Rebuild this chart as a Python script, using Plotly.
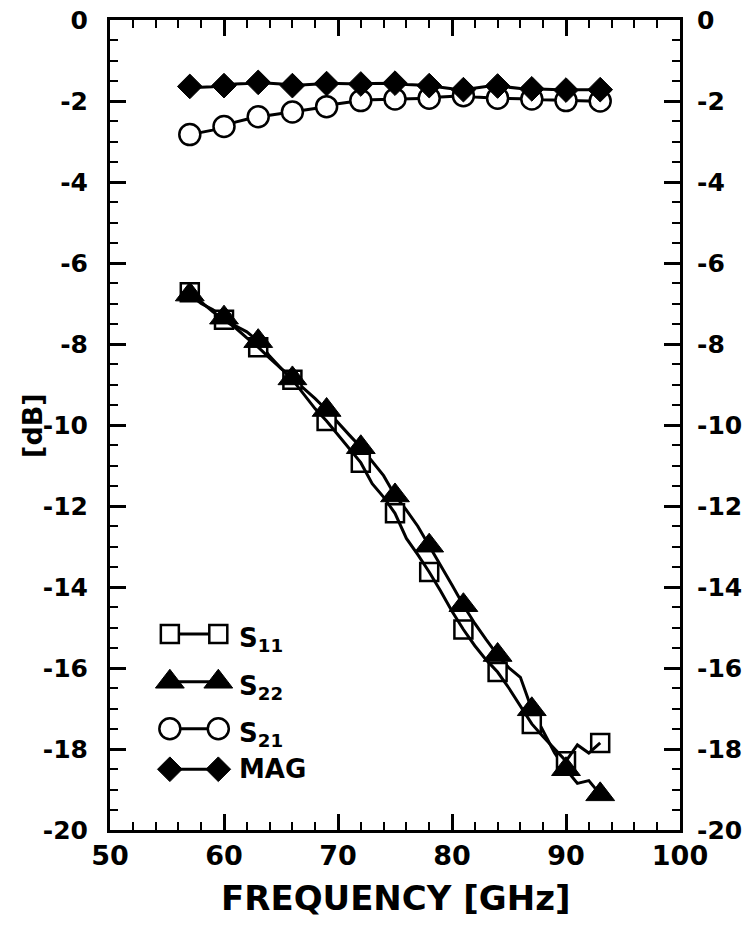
import plotly.graph_objects as go

# Sweep frequencies (GHz), 1 GHz steps; every third point carries a marker
freq = list(range(57, 94))

# Measured S-parameters and maximum available gain (dB)
s11 = [-6.72, -6.95, -7.20, -7.40, -7.60, -7.85, -8.08, -8.35, -8.60, -8.88,
       -9.25, -9.60, -9.90, -10.25, -10.60, -10.93, -11.45, -11.78, -12.18, -12.80,
       -13.20, -13.63, -14.10, -14.60, -15.05, -15.45, -15.80, -16.10, -16.50, -16.95,
       -17.38, -17.70, -18.00, -18.30, -17.90, -18.10, -17.85]
s22 = [-6.78, -7.00, -7.15, -7.35, -7.55, -7.70, -7.93, -8.30, -8.60, -8.85,
       -9.10, -9.35, -9.63, -9.95, -10.25, -10.55, -10.90, -11.25, -11.74, -12.10,
       -12.50, -12.98, -13.45, -13.95, -14.45, -14.90, -15.30, -15.68, -16.00, -16.23,
       -17.02, -17.55, -18.10, -18.50, -18.85, -18.78, -19.12]
s21 = [-2.83, -2.78, -2.72, -2.63, -2.52, -2.45, -2.39, -2.35, -2.31, -2.27,
       -2.22, -2.19, -2.14, -2.07, -2.03, -1.99, -1.97, -1.96, -1.95, -1.94,
       -1.94, -1.93, -1.90, -1.88, -1.87, -1.90, -1.92, -1.93, -1.94, -1.94,
       -1.95, -1.97, -1.98, -1.99, -1.99, -2.00, -2.00]
mag = [-1.64, -1.66, -1.65, -1.62, -1.58, -1.57, -1.54, -1.56, -1.58, -1.62,
       -1.60, -1.59, -1.57, -1.57, -1.58, -1.58, -1.57, -1.56, -1.56, -1.59,
       -1.61, -1.62, -1.66, -1.70, -1.72, -1.68, -1.64, -1.63, -1.66, -1.69,
       -1.70, -1.71, -1.73, -1.73, -1.72, -1.72, -1.72]

names = ["S<sub>11</sub>", "S<sub>22</sub>", "S<sub>21</sub>", "MAG"]
x_ticks = [50, 60, 70, 80, 90, 100]
x_tick_labels = ["50", "60", "70", "80", "90", "100"]
y_ticks = [0, -2, -4, -6, -8, -10, -12, -14, -16, -18, -20]
y_tick_labels = ["0", "-2", "-4", "-6", "-8", "-10", "-12", "-14", "-16", "-18", "-20"]

FONT = "DejaVu Sans"
BLACK = "black"
LW = 3
TEXT = dict(family=FONT, size=25, color=BLACK, weight="bold")
XTEXT = dict(family=FONT, size=27, color=BLACK, weight="bold")
TITLE = dict(family=FONT, size=34, color=BLACK, weight="bold")
YTITLE = dict(family=FONT, size=27, color=BLACK, weight="bold")
KEYTEXT = dict(family=FONT, size=26, color=BLACK, weight="bold")

styles = [
    dict(symbol="square", size=18, color="white", line=dict(color=BLACK, width=2.5)),
    dict(symbol="triangle-up", size=25, color=BLACK, line=dict(color=BLACK, width=1)),
    dict(symbol="circle", size=21, color="white", line=dict(color=BLACK, width=2.5)),
    dict(symbol="diamond", size=19, color=BLACK, line=dict(color=BLACK, width=1)),
]
series = [s11, s22, s21, mag]

fig = go.Figure()

# connecting lines through every sweep point (the first one is on the right-hand
# dB axis, which shares the left axis scale)
for i, ys in enumerate(series):
    fig.add_trace(go.Scatter(x=freq, y=ys, mode="lines",
                             line=dict(color=BLACK, width=LW), showlegend=False,
                             yaxis="y2" if i == 0 else "y", hoverinfo="skip"))
# markers on every third sweep point
for ys, st in zip(series, styles):
    fig.add_trace(go.Scatter(x=freq[::3], y=ys[::3], mode="markers",
                             marker=st, showlegend=False))

# key: two markers joined by a line, on a unit overlay axis
key_rows = [0.242, 0.183, 0.125, 0.075]
for yk, st, nm in zip(key_rows, styles, names):
    fig.add_trace(go.Scatter(x=[0.105, 0.19], y=[yk, yk], mode="lines+markers",
                             line=dict(color=BLACK, width=LW), marker=st,
                             xaxis="x3", yaxis="y3", showlegend=False, hoverinfo="skip"))
    fig.add_annotation(x=0.222, y=yk, xref="paper", yref="paper", text=nm,
                       showarrow=False, xanchor="left", yanchor="middle",
                       yshift=-6 if nm != "MAG" else 0, font=KEYTEXT)

axis_common = dict(showline=True, linewidth=LW, linecolor=BLACK, mirror="ticks",
                   ticks="inside", ticklen=16, tickwidth=3, tickcolor=BLACK,
                   showgrid=False, zeroline=False)

fig.update_layout(
    width=749, height=928,
    margin=dict(l=110, r=69, t=20, b=98, autoexpand=False),
    paper_bgcolor="white", plot_bgcolor="white",
    xaxis=dict(range=[50, 100], tickvals=x_ticks, ticktext=x_tick_labels,
               ticklabelstandoff=0, tickfont=XTEXT,
               minor=dict(dtick=2, tick0=50, ticks="inside", ticklen=8, tickwidth=2,
                          tickcolor=BLACK, showgrid=False),
               **axis_common),
    yaxis=dict(range=[-20, 0], tickvals=y_ticks, ticktext=y_tick_labels,
               ticklabelstandoff=14, tickfont=TEXT,
               minor=dict(dtick=0.5, tick0=0, ticks="inside", ticklen=8, tickwidth=2,
                          tickcolor=BLACK, showgrid=False),
               **axis_common),
    yaxis2=dict(range=[-20, 0], matches="y", tickvals=y_ticks, ticktext=y_tick_labels,
                overlaying="y", side="right", anchor="x", showline=False, ticks="",
                showgrid=False, zeroline=False, ticklabelstandoff=16, tickfont=TEXT),
    xaxis3=dict(range=[0, 1], overlaying="x", anchor="y3", visible=False),
    yaxis3=dict(range=[0, 1], overlaying="y", anchor="x3", visible=False),
)

fig.add_annotation(x=0.5, y=-0.084, xref="paper", yref="paper",
                   text="FREQUENCY [GHz]", showarrow=False,
                   xanchor="center", yanchor="middle", font=TITLE)
fig.add_annotation(x=-0.137, y=0.5, xref="paper", yref="paper",
                   text="[dB]", showarrow=False, textangle=-90,
                   xanchor="center", yanchor="middle", font=YTITLE)

fig.write_html("out.html")
